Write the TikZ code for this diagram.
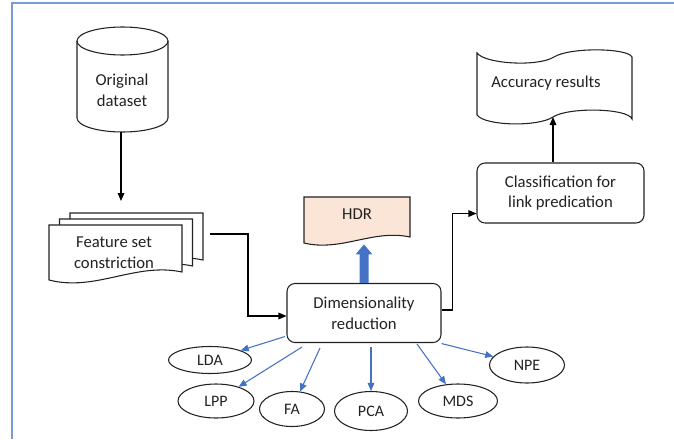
\documentclass[tikz,border=0pt]{standalone}
\usepackage{fontspec}
\setmainfont{Carlito}
\usetikzlibrary{shapes.geometric,arrows.meta,calc}
\definecolor{frameblue}{RGB}{122,154,216}
\definecolor{linkblue}{RGB}{68,114,196}
\definecolor{hdrfill}{RGB}{251,229,214}
\definecolor{ink}{RGB}{34,34,34}

\begin{document}
\begin{tikzpicture}[x=0.75pt,y=-0.75pt,
  every node/.style={text=ink},
  lbl/.style={font=\fontsize{12.5}{15.5}\selectfont, align=center, inner sep=0pt},
  outline/.style={draw=ink, line width=0.8pt},
  roundbox/.style={outline, rounded corners=6pt, fill=white, lbl},
  method/.style={ellipse, outline, inner sep=0pt, font=\fontsize{12}{14}\selectfont},
  flow/.style={draw=black, line width=0.8pt, -{Triangle[length=6pt,width=5pt]}},
  spoke/.style={draw=linkblue, line width=0.8pt, -{Triangle[length=6pt,width=5pt]}}]

\useasboundingbox (0,0) rectangle (674,439);

% page frame
\draw[frameblue, line width=1pt] (674,3) -- (12,3) -- (12,439);

% database cylinder
\draw[outline, fill=white] (77,41) -- (77,118)
  arc[start angle=180, end angle=0, x radius=45.5, y radius=14] -- (168,41);
\draw[outline] (122.5,41) ellipse [x radius=45.5, y radius=14];
\node[lbl] (cyl) at (122,90) {Original\\dataset};
\coordinate (cylbase) at (121,132);

% stacked documents
\draw[outline, fill=white] (70,213) -- (203,213) -- (203,260)
  .. controls (156.5,250) and (116.5,280) .. (70,268) -- cycle;
\draw[outline, fill=white] (59.5,219) -- (192.5,219) -- (192.5,266)
  .. controls (146,256) and (106,286) .. (59.5,274) -- cycle;
\draw[outline, fill=white] (49,225) -- (182,225) -- (182,272)
  .. controls (135.5,262) and (95.5,292) .. (49,280) -- cycle;
\node[lbl] (fs) at (114,253) {Feature set\\constriction};
\coordinate (fstop) at (121,201);
\coordinate (fsout) at (210,234);

% HDR document
\draw[outline, fill=hdrfill] (304,197) -- (410,197) -- (410,237)
  .. controls (373,229) and (341,252) .. (304,243) -- cycle;
\node[lbl] (hdr) at (357,214) {HDR};

% accuracy results (punched tape)
\draw[outline, fill=white] (477,53) .. controls (485,64) and (538,67) .. (554,57)
  .. controls (570,47) and (628,48) .. (632,57) -- (632,119)
  .. controls (628,108) and (568,107) .. (553,117)
  .. controls (538,127) and (485,126) .. (477,115) -- cycle;
\node[lbl] (acc) at (546,83) {Accuracy results};
\coordinate (accin) at (553,117);

% process boxes
\node[roundbox, minimum width=115.5pt, minimum height=44.25pt] (dim) at (364,313)
  {Dimensionality\\reduction};
\node[roundbox, minimum width=125.25pt, minimum height=45pt] (cls) at (560.5,193)
  {Classification for\\link predication};

% reduction methods
\node[method, minimum width=62.25pt, minimum height=20.25pt] (lda) at (210,360) {LDA};
\node[method, minimum width=57pt, minimum height=25.5pt] (lpp) at (216,401) {LPP};
\node[method, minimum width=48.75pt, minimum height=26.25pt] (fa) at (292,409) {FA};
\node[method, minimum width=54.75pt, minimum height=29.25pt] (pca) at (371,411) {PCA};
\node[method, minimum width=59.25pt, minimum height=25.5pt] (mds) at (458,401) {MDS};
\node[method, minimum width=56.25pt, minimum height=27pt] (npe) at (527,365) {NPE};

% main flow
\draw[flow] (cylbase) -- (fstop);
\draw[flow] (fsout) -- ++(38,0) |- ($(dim.west)+(0,3)$);
\draw[flow] ($(dim.east)+(0,-3)$) -- ++(11,0) |- ($(cls.south west)+(0,-10)$);
\draw[flow] ($(cls.north)+(-7.5,0)$) -- (accin);

% wide arrow to HDR
\fill[linkblue] ($(dim.north)+(-4.5,0)$) -- ++(0,-28.5) -- ++(-4,0) -- ++(8.5,-10)
  -- ++(8.5,10) -- ++(-4,0) -- ++(0,28.5) -- cycle;

% spokes to methods
\draw[spoke] ($(dim.south west)+(-1.5,-6.5)$) -- (lda);
\draw[spoke] ($(dim.south)+(-62,4)$) -- (lpp);
\draw[spoke] ($(dim.south)+(-44,5)$) -- (fa);
\draw[spoke] ($(dim.south)+(7,4)$) -- (pca);
\draw[spoke] ($(dim.south)+(53,1)$) -- (mds);
\draw[spoke] ($(dim.south east)+(0,0.5)$) -- (npe);
\end{tikzpicture}
\end{document}
